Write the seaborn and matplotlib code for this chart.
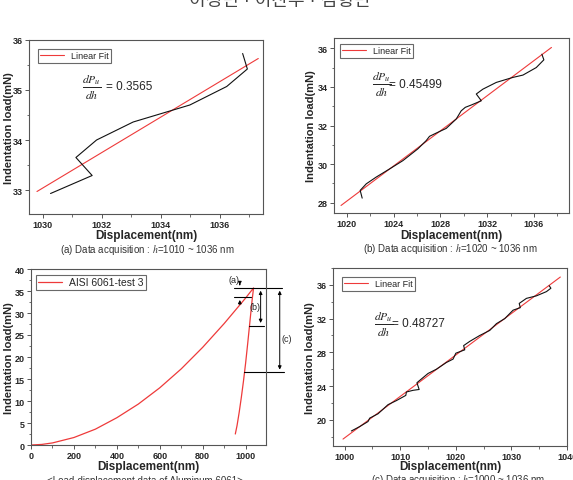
import numpy as np
import pandas as pd
import matplotlib
matplotlib.use('Agg')
import matplotlib.pyplot as plt
import seaborn as sns
from matplotlib.ticker import MultipleLocator

sns.set_style('ticks')
plt.rcParams['font.family'] = ['Liberation Sans', 'Noto Sans CJK KR', 'DejaVu Sans']
plt.rcParams['mathtext.fontset'] = 'stix'

# (a) h = 1010 ~ 1036 nm
a_h = [1030.26, 1031.67, 1031.12, 1031.82, 1033.06, 1034.19, 1034.98, 1036.23, 1036.93, 1036.77]
a_p = [32.93, 33.29, 33.65, 34.00, 34.36, 34.56, 34.70, 35.07, 35.42, 35.73]
a_fit_h = [1029.8, 1037.3]
a_fit_p = [32.97, 35.63]

# (b) h = 1020 ~ 1036 nm
b_h = [1021.31, 1021.14, 1021.66, 1022.51, 1023.65, 1024.79, 1026.07, 1026.79, 1027.07,
       1027.65, 1028.5, 1029.36, 1029.78, 1030.13, 1030.64, 1031.5, 1031.07, 1031.63,
       1032.78, 1034.2, 1035.06, 1036.2, 1036.85, 1036.68]
b_p = [28.24, 28.64, 28.98, 29.33, 29.75, 30.18, 30.79, 31.22, 31.44, 31.61, 31.85, 32.34,
       32.76, 32.94, 33.06, 33.28, 33.63, 33.88, 34.23, 34.49, 34.61, 35.0, 35.4, 35.69]
b_fit_h = [1019.5, 1037.5]
b_fit_p = [27.86, 36.04]

# full load-displacement curve, Aluminum 6061
load_h = [0, 50, 100, 200, 300, 400, 500, 600, 700, 800, 900, 950, 1000, 1037]
load_p = [0, 0.13, 0.47, 1.7, 3.6, 6.2, 9.3, 13.0, 17.3, 22.2, 27.6, 30.5, 33.4, 35.7]
unload_h = [1037, 1030, 1020, 1010, 1000, 990, 980, 970, 960, 952]
unload_p = [35.7, 32.8, 28.0, 23.2, 18.6, 14.5, 10.8, 7.4, 4.4, 2.5]

# (c) h = 1000 ~ 1036 nm
c_h = [1001.2, 1002.7, 1004.2, 1004.5, 1006.0, 1007.8, 1009.3, 1011.0, 1011.1, 1012.3, 1013.4,
       1013.0, 1015.0, 1016.5, 1018.3, 1019.5, 1020.0, 1021.6, 1021.4, 1022.5, 1024.3, 1026.1,
       1027.3, 1028.8, 1030.3, 1031.6, 1031.4, 1032.7, 1034.5, 1036.3, 1037.1, 1036.8]
c_p = [18.68, 19.2, 19.8, 20.2, 20.72, 21.8, 22.28, 22.9, 23.3, 23.5, 23.6,
       24.4, 25.5, 26.0, 26.8, 27.2, 27.9, 28.3, 28.8, 29.3, 30.0, 30.6,
       31.4, 32.0, 33.0, 33.3, 33.8, 34.4, 34.7, 35.2, 35.6, 35.9]
c_fit_h = [999.7, 1038.8]
c_fit_p = [17.72, 36.93]

slopes = ['0.3565', '0.45499', '0.48727']
RED = '#ee3a3a'

W, H = 573, 481
fig = plt.figure(figsize=(W / 100, H / 100), dpi=100)


def box(l, r, t, b):
    return [l / W, 1 - b / H, (r - l) / W, (b - t) / H]


def style(ax, ylab_x, xlab_y):
    for s in ax.spines.values():
        s.set_color('#555555')
        s.set_linewidth(0.8)
    ax.tick_params(which='major', length=3, width=0.7, color='#555555',
                   labelsize=6.5, pad=1.5)
    ax.tick_params(which='minor', length=1.8, width=0.6, color='#555555')
    for lb in ax.get_xticklabels() + ax.get_yticklabels():
        lb.set_fontweight('bold')
    ax.set_xlabel('Displacement(nm)', fontsize=8.5, fontweight='bold')
    ax.set_ylabel('Indentation load(mN)', fontsize=8, fontweight='bold')
    ax.yaxis.set_label_coords(ylab_x, 0.5)
    ax.xaxis.set_label_coords(0.5, xlab_y)


def legend(ax, dx, dy):
    lg = ax.legend(loc='upper left', bbox_to_anchor=(dx, dy), borderaxespad=0,
                   fontsize=6.5, frameon=True, fancybox=False, handlelength=2.6,
                   borderpad=0.25, handletextpad=0.8)
    lg.get_frame().set_edgecolor('#444444')
    lg.get_frame().set_linewidth(0.8)


def fit_panel(ax, h, p, fh, fp):
    sns.lineplot(x=fh, y=fp, ax=ax, color=RED, lw=0.8, label='Linear Fit')
    sns.lineplot(x=h, y=p, ax=ax, color='#111111', lw=0.8, sort=False, estimator=None)


# (a)
ax1 = fig.add_axes(box(29, 263, 41, 215))
fit_panel(ax1, a_h, a_p, a_fit_h, a_fit_p)
ax1.set_xlim(1029.53, 1037.46)
ax1.set_ylim(32.52, 36)
ax1.xaxis.set_major_locator(MultipleLocator(2))
ax1.xaxis.set_minor_locator(MultipleLocator(1))
ax1.yaxis.set_major_locator(MultipleLocator(1))
ax1.yaxis.set_minor_locator(MultipleLocator(0.5))
legend(ax1, 9 / 234, 1 - 9 / 174)
ax1.text(0.225, 0.735, r'$\frac{dP_u}{dh}$', transform=ax1.transAxes, fontsize=12, va='center')
ax1.text(0.33, 0.735, '= ' + slopes[0], transform=ax1.transAxes, fontsize=8.5, va='center')
style(ax1, -0.066, -0.085)

# (b)
ax2 = fig.add_axes(box(334, 569, 39, 214))
fit_panel(ax2, b_h, b_p, b_fit_h, b_fit_p)
ax2.set_xlim(1018.9, 1039)
ax2.set_ylim(27.47, 36.53)
ax2.xaxis.set_major_locator(MultipleLocator(4))
ax2.xaxis.set_minor_locator(MultipleLocator(2))
ax2.yaxis.set_major_locator(MultipleLocator(2))
ax2.yaxis.set_minor_locator(MultipleLocator(1))
legend(ax2, 6 / 235, 1 - 6 / 175)
ax2.text(0.16, 0.74, r'$\frac{dP_u}{dh}$', transform=ax2.transAxes, fontsize=12, va='center')
ax2.text(0.235, 0.74, '= ' + slopes[1], transform=ax2.transAxes, fontsize=8.5, va='center')
style(ax2, -0.075, -0.09)

# full curve
ax3 = fig.add_axes(box(31, 266, 270, 446))
curve = pd.DataFrame({'h': load_h + unload_h, 'p': load_p + unload_p})
sns.lineplot(data=curve, x='h', y='p', ax=ax3, color=RED, lw=0.9, sort=False,
             estimator=None, label='AISI 6061-test 3')
ax3.set_xlim(0, 1095)
ax3.set_ylim(0, 40)
ax3.xaxis.set_major_locator(MultipleLocator(200))
ax3.xaxis.set_minor_locator(MultipleLocator(100))
ax3.yaxis.set_major_locator(MultipleLocator(5))
ax3.yaxis.set_minor_locator(MultipleLocator(2.5))
legend(ax3, 5 / 235, 1 - 6 / 176)
ax3.get_legend().get_texts()[0].set_fontsize(7.5)

# range marks (a), (b), (c)
lev_top, lev_a, lev_b, lev_c = 35.7, 33.6, 27.1, 16.5
kw = dict(color='black', lw=0.8, clip_on=False)
ax3.plot([945, 1171], [lev_top, lev_top], **kw)
ax3.plot([945, 1023], [lev_a, lev_a], **kw)
ax3.plot([1015, 1085], [lev_b, lev_b], **kw)
ax3.plot([992, 1178], [lev_c, lev_c], **kw)
aprops = dict(arrowstyle='-|>', color='black', lw=0.7, mutation_scale=5)
dprops = dict(arrowstyle='<|-|>', color='black', lw=0.7, mutation_scale=5)
ax3.annotate('', xy=(973, lev_top), xytext=(973, 37.1), arrowprops=aprops, annotation_clip=False)
ax3.annotate('', xy=(973, lev_a), xytext=(973, 31.3), arrowprops=aprops, annotation_clip=False)
ax3.annotate('', xy=(1070, lev_top), xytext=(1070, lev_b), arrowprops=dprops, annotation_clip=False)
ax3.annotate('', xy=(1159, lev_top), xytext=(1159, lev_c), arrowprops=dprops, annotation_clip=False)
ax3.text(945, 37.7, '(a)', fontsize=6.5, ha='center', va='center', clip_on=False)
ax3.text(1043, 31.4, '(b)', fontsize=6.5, ha='center', va='center', clip_on=False)
ax3.text(1191, 24.3, '(c)', fontsize=6.5, ha='center', va='center', clip_on=False)
style(ax3, -0.074, -0.085)

# (c)
ax4 = fig.add_axes(box(333, 567, 269, 447))
fit_panel(ax4, c_h, c_p, c_fit_h, c_fit_p)
ax4.set_xlim(997.9, 1040)
ax4.set_ylim(16.9, 38)
ax4.xaxis.set_major_locator(MultipleLocator(10))
ax4.xaxis.set_minor_locator(MultipleLocator(5))
ax4.yaxis.set_major_locator(MultipleLocator(4))
ax4.yaxis.set_minor_locator(MultipleLocator(2))
legend(ax4, 9 / 234, 1 - 9 / 178)
ax4.text(0.175, 0.69, r'$\frac{dP_u}{dh}$', transform=ax4.transAxes, fontsize=12, va='center')
ax4.text(0.25, 0.69, '= ' + slopes[2], transform=ax4.transAxes, fontsize=8.5, va='center')
style(ax4, -0.075, -0.08)

# captions
cap = dict(fontsize=7, ha='center', va='center', color='#333333')
fig.text(147 / W, 1 - 250 / H, '(a) Data acquisition : $h$=1010 ~ 1036 nm', **cap)
fig.text(450 / W, 1 - 249 / H, '(b) Data acquisition : $h$=1020 ~ 1036 nm', **cap)
fig.text(145 / W, 1 - 481 / H, '<Load-displacement data of Aluminum 6061>', **cap)
fig.text(458 / W, 1 - 480 / H, '(c) Data acquisition : $h$=1000 ~ 1036 nm', **cap)
fig.text(280 / W, 1 - 6 / H, '이정민 · 이찬우 · 김형민', fontsize=13, ha='center',
         va='baseline', color='#444444')

fig.savefig('out.png', dpi=100)
